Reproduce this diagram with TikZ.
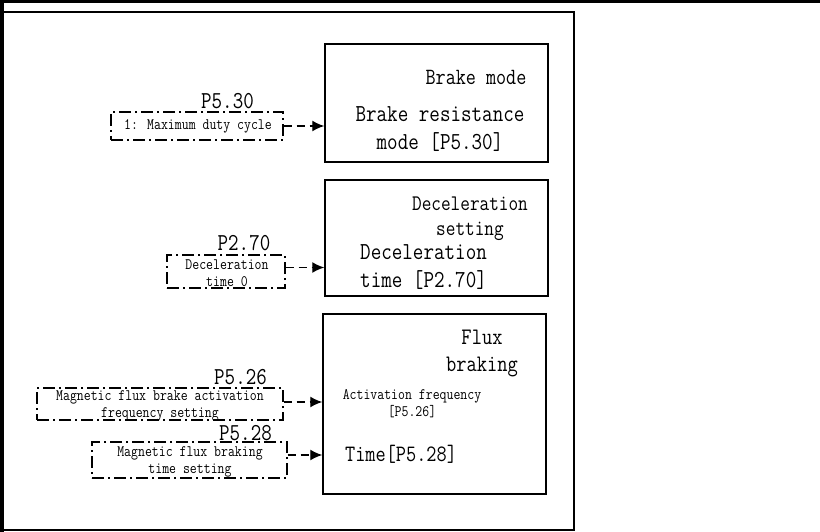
\documentclass[tikz,border=0pt]{standalone}
\usepackage{fontspec}
\newfontfamily\simfont[FakeStretch=0.84]{Latin Modern Mono}
\usetikzlibrary{arrows.meta}
\tikzset{
  mainbox/.style={draw=black, line width=1.5pt, minimum width=223pt, inner sep=0pt},
  parbox/.style={draw=black, line width=1.4pt, dash pattern=on 12pt off 4pt on 2pt off 4pt, inner sep=0pt},
  txt/.style={inner sep=0pt, align=center, font=\simfont},
  conn/.style={line width=1.4pt, dash pattern=on 8pt off 5pt, -{Latex[length=12pt,width=11pt]}},
  big/.style={font=\simfont\fontsize{24.4}{28}\selectfont},
  mid/.style={font=\simfont\fontsize{23.3}{26}\selectfont},
  small/.style={font=\simfont\fontsize{16}{17}\selectfont},
  plabel/.style={inner sep=0pt, font=\simfont\fontsize{24.3}{24}\selectfont}
}
\begin{document}
\begin{tikzpicture}[x=1pt,y=-1pt]
\useasboundingbox (0,0) rectangle (820,532);
% frame
\draw[line width=3pt] (0,2) -- (820,2);
\draw[line width=4pt] (2,0) -- (2,532);
\draw[line width=1.5pt] (2,12) -- (574,12) -- (574,530) -- (2,530);
% main boxes
\node[mainbox, minimum height=118pt] (b1) at (436.5,103) {};
\node[mainbox, minimum height=116pt] (b2) at (436.5,238) {};
\node[mainbox, minimum height=180pt] (b3) at (434.5,404) {};
% box texts
\node[txt, mid] (t1a) at (476,77) {Brake mode};
\node[txt, big] (t1b) at (440,129) {Brake resistance\\mode [P5.30]};
\node[txt, font=\simfont\fontsize{22.3}{25}\selectfont] (t2a) at (470,218.5) {Deceleration\\setting};
\node[txt, big, align=left, anchor=west] (t2b) at (360,267) {Deceleration\\time [P2.70]};
\node[txt, font=\simfont\fontsize{23.7}{27}\selectfont] (t3a) at (482,353.5) {Flux\\braking};
\node[txt, small] (t3b) at (412,403.5) {Activation frequency\\{}[P5.26]};
\node[txt, font=\simfont\fontsize{23.5}{26}\selectfont] (t3c) at (401,454) {Time[P5.28]};
% parameter boxes
\node[parbox, minimum width=172pt, minimum height=28pt] (pa) at (197,126) {};
\node[parbox, minimum width=118pt, minimum height=33pt] (pb) at (226,271.5) {};
\node[parbox, minimum width=246pt, minimum height=32pt] (pc) at (160,404) {};
\node[parbox, minimum width=195pt, minimum height=36pt] (pd) at (189.5,460) {};
\node[txt, small] (ta) at (198,126) {1: Maximum duty cycle};
\node[txt, small] (tb) at (227,273.5) {Deceleration\\time 0};
\node[txt, small] (tc) at (160,406) {Magnetic flux brake activation\\frequency setting};
\node[txt, small] (td) at (190,461.5) {Magnetic flux braking\\time setting};
% labels
\node[plabel] (la) at (227.5,101) {P5.30};
\node[plabel] (lb) at (244,243) {P2.70};
\node[plabel] (lc) at (240.5,377) {P5.26};
\node[plabel] (ld) at (245.5,433) {P5.28};
% connectors
\draw[conn] (pa.east) -- (pa.east -| b1.west);
\draw[conn] ([yshift=4pt]pb.east) -- ([yshift=4pt]pb.east -| b2.west);
\draw[conn] ([yshift=2pt]pc.east) -- ([yshift=2pt]pc.east -| b3.west);
\draw[conn] ([yshift=5pt]pd.east) -- ([yshift=5pt]pd.east -| b3.west);
\end{tikzpicture}
\end{document}
